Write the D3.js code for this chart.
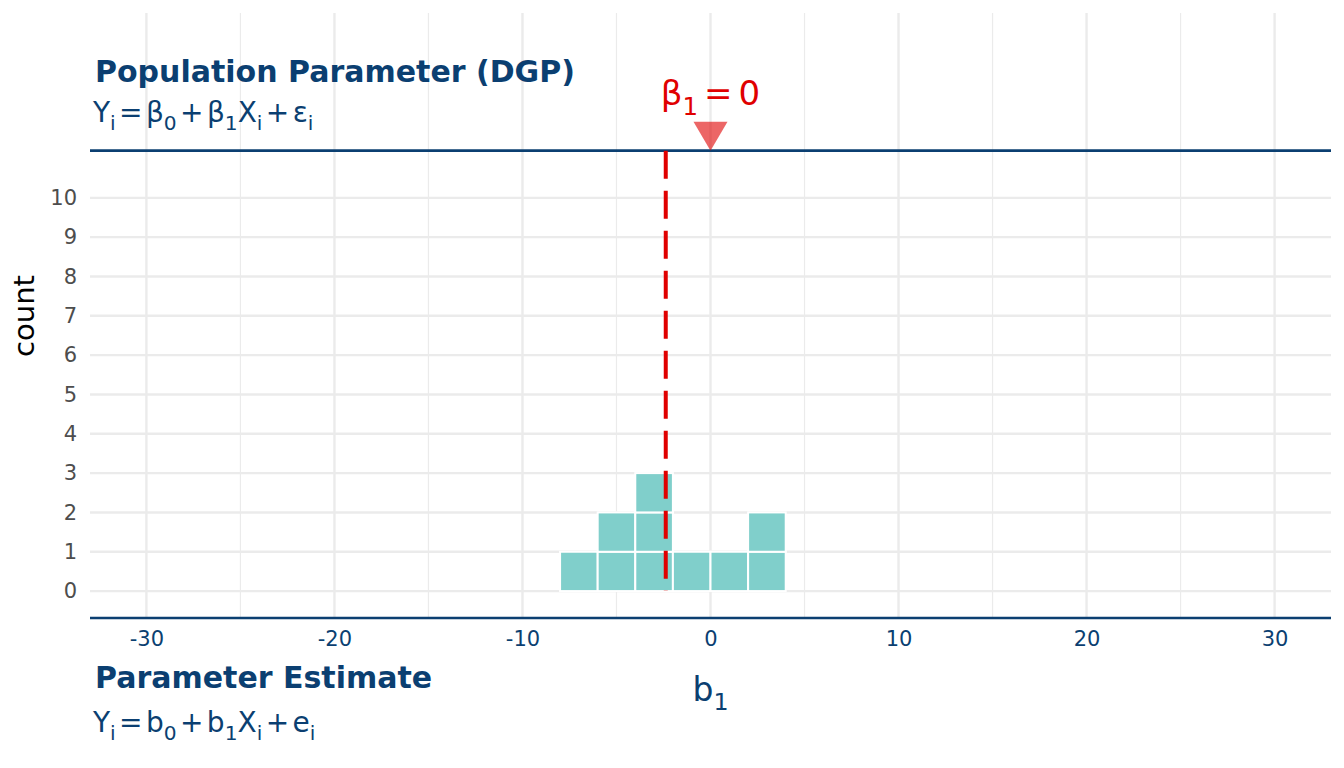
<!DOCTYPE html>
<html>
<head>
<meta charset="utf-8">
<script src="https://cdn.jsdelivr.net/npm/d3@7"></script>
<style>
  body { margin: 0; background: #fff; }
  text { font-family: "DejaVu Sans", sans-serif; }
</style>
</head>
<body>
<div id="chart"></div>
<script>
// histogram of b1 estimates (bin width 2)
const binStarts = [-8, -6, -4, -2, 0, 2]
const binCounts = [1, 2, 3, 1, 1, 2]
const binWidth = 2
const meanB1 = -2.38
const beta1 = 0
const xTicks = [-30, -20, -10, 0, 10, 20, 30]
const xMinor = [-25, -15, -5, 5, 15, 25]
const yTicks = [0, 1, 2, 3, 4, 5, 6, 7, 8, 9, 10]

const navy = '#0b3f71'
const red = '#e00000'

let dim = { width: 1344, height: 768 }
let panel = { left: 90, right: 1331, top: 13, bottom: 619 }

let svg = d3.select('#chart').append('svg')
    .attr('width', dim.width)
    .attr('height', dim.height)

let x = d3.scaleLinear().domain([-33, 33]).range([panel.left, panel.right])
let y = d3.scaleLinear().domain([-0.71, 14.7]).range([panel.bottom, panel.top])

// grid
svg.append('g').selectAll('line').data(xMinor).join('line')
    .attr('x1', d => x(d)).attr('x2', d => x(d))
    .attr('y1', panel.top).attr('y2', panel.bottom)
    .attr('stroke', '#ebebeb').attr('stroke-width', 1.2)
svg.append('g').selectAll('line').data(xTicks).join('line')
    .attr('x1', d => x(d)).attr('x2', d => x(d))
    .attr('y1', panel.top).attr('y2', panel.bottom)
    .attr('stroke', '#ebebeb').attr('stroke-width', 2.4)
svg.append('g').selectAll('line').data(yTicks).join('line')
    .attr('x1', panel.left).attr('x2', panel.right)
    .attr('y1', d => y(d)).attr('y2', d => y(d))
    .attr('stroke', '#ebebeb').attr('stroke-width', 2.4)

// axes text
let axisY = d3.axisLeft(y).tickValues(yTicks).tickSize(0).tickPadding(13)
svg.append('g')
    .attr('transform', `translate(${panel.left},0)`)
    .call(axisY)
    .call(g => g.select('.domain').remove())
    .selectAll('text')
    .attr('font-size', 21).attr('fill', '#4d4d4d').attr('font-family', 'DejaVu Sans')

let axisX = d3.axisBottom(x).tickValues(xTicks).tickFormat(d => String(d)).tickSize(0).tickPadding(12)
svg.append('g')
    .attr('transform', `translate(0,${panel.bottom})`)
    .call(axisX)
    .call(g => g.select('.domain').remove())
    .selectAll('text')
    .attr('font-size', 21).attr('fill', navy).attr('font-family', 'DejaVu Sans')

svg.append('text')
    .attr('transform', `translate(34,${(panel.top + panel.bottom) / 2}) rotate(-90)`)
    .attr('text-anchor', 'middle')
    .attr('font-size', 29)
    .text('count')

// bars, one square per count
let cells = []
binStarts.forEach((b, i) => {
    for (let k = 0; k < binCounts[i]; k++) cells.push({ x0: b, k: k })
})
svg.append('g').selectAll('rect').data(cells).join('rect')
    .attr('x', d => x(d.x0))
    .attr('y', d => y(d.k + 1))
    .attr('width', x(binWidth) - x(0))
    .attr('height', y(0) - y(1))
    .attr('fill', '#80cfcb')
    .attr('stroke', '#fff')
    .attr('stroke-width', 2)

// population / estimate separators
svg.append('line')
    .attr('x1', panel.left).attr('x2', panel.right)
    .attr('y1', y(11.2)).attr('y2', y(11.2))
    .attr('stroke', navy).attr('stroke-width', 2.6)
svg.append('line')
    .attr('x1', panel.left).attr('x2', panel.right)
    .attr('y1', panel.bottom - 1).attr('y2', panel.bottom - 1)
    .attr('stroke', navy).attr('stroke-width', 2.6)

// mean of estimates
svg.append('line')
    .attr('x1', x(meanB1)).attr('x2', x(meanB1))
    .attr('y1', y(11.2)).attr('y2', y(0))
    .attr('stroke', red).attr('stroke-width', 4)
    .attr('stroke-dasharray', '28,12')

// beta marker
let tx = x(beta1), ty = y(11.2)
svg.append('path')
    .attr('d', `M${tx},${ty} L${tx - 17},${ty - 29} L${tx + 17},${ty - 29} Z`)
    .attr('fill', red).attr('fill-opacity', 0.6)

// math text helper: parts = [text, 's' sub | 'o' operator]
function mathText(sel, px, py, parts, size, color, anchor, gap) {
    let t = sel.append('text')
        .attr('x', px).attr('y', py)
        .attr('font-size', size).attr('fill', color)
        .attr('text-anchor', anchor || 'start')
    let shifted = false, pad = 0
    parts.forEach(p => {
        let s = t.append('tspan').text(p[0])
        let dy = 0
        if (p[1] == 's') { s.attr('font-size', size * 0.72); if (!shifted) { dy = size * 0.28; shifted = true } }
        else if (shifted) { dy = -size * 0.28; shifted = false }
        if (dy) s.attr('dy', dy)
        let dx = pad
        pad = 0
        if (p[1] == 'o') { dx += gap; pad = gap }
        if (dx) s.attr('dx', dx)
    })
    return t
}

mathText(svg, tx, 105, [['β'], ['1', 's'], ['=', 'o'], ['0']], 34, red, 'middle', 6)

svg.append('text')
    .attr('x', 95).attr('y', 82)
    .attr('font-size', 30).attr('font-weight', 'bold').attr('fill', navy)
    .text('Population Parameter (DGP)')
mathText(svg, 93, 122, [['Y'], ['i', 's'], ['=', 'o'], ['β'], ['0', 's'], ['+', 'o'], ['β'], ['1', 's'], ['X'], ['i', 's'], ['+', 'o'], ['ε'], ['i', 's']], 28, navy, 'start', 3.4)

svg.append('text')
    .attr('x', 95).attr('y', 688)
    .attr('font-size', 30).attr('font-weight', 'bold').attr('fill', navy)
    .text('Parameter Estimate')
mathText(svg, 93, 732, [['Y'], ['i', 's'], ['=', 'o'], ['b'], ['0', 's'], ['+', 'o'], ['b'], ['1', 's'], ['X'], ['i', 's'], ['+', 'o'], ['e'], ['i', 's']], 28, navy, 'start', 3.4)

mathText(svg, x(0), 701, [['b'], ['1', 's']], 33, navy, 'middle', 0)
</script>
</body>
</html>
